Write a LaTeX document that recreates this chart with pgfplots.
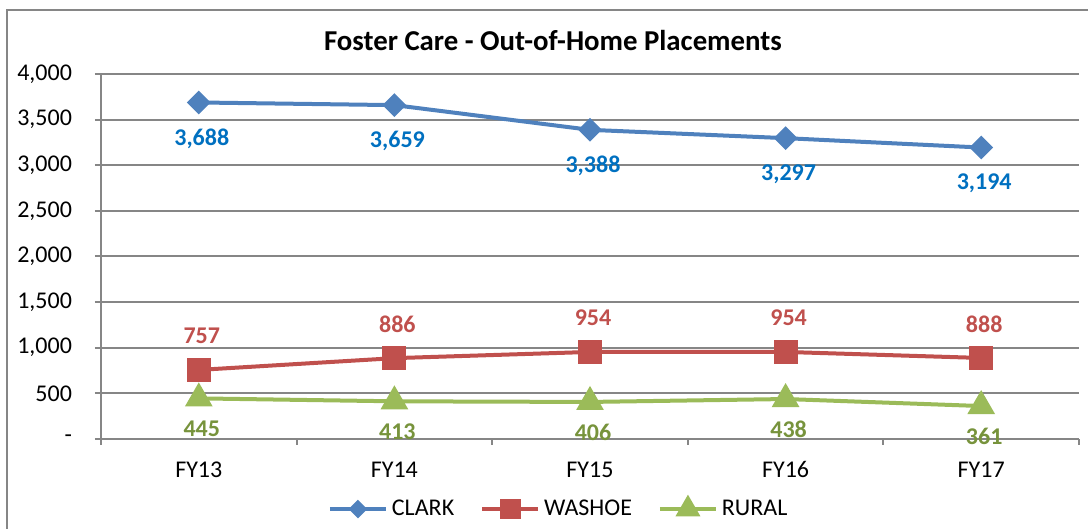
\documentclass[border=0pt]{standalone}
\usepackage{pgfplots}
\pgfplotsset{compat=1.18}
\usepackage{fontspec}
\setmainfont{Carlito}
\definecolor{cblue}{HTML}{4F81BD}
\definecolor{cred}{HTML}{C0504D}
\definecolor{cgreen}{HTML}{9BBB59}
\definecolor{lblue}{HTML}{0070C0}
\definecolor{lred}{HTML}{C0504D}
\definecolor{lgreen}{HTML}{77933C}
\definecolor{gridgray}{HTML}{868686}
\begin{document}
\begin{tikzpicture}
\useasboundingbox (0,0) rectangle (544pt,264.5pt);
\draw[gridgray, line width=0.9pt] (3.5pt,259.5pt) rectangle (560pt,-20pt);
\node[font=\fontsize{14.4}{17}\selectfont\bfseries] at (276.5pt,244pt) {Foster Care - Out-of-Home Placements};
\begin{axis}[
  at={(50.5pt,45pt)}, anchor=south west,
  scale only axis, width=489pt, height=182.5pt,
  xmin=-0.5, xmax=4.5, ymin=0, ymax=4000,
  axis x line*=bottom, axis y line*=left,
  axis line style={gridgray, line width=1pt},
  xtick={0,1,2,3,4}, xticklabels={FY13,FY14,FY15,FY16,FY17},
  minor xtick={-0.5,0.5,...,4.5},
  ytick={0,500,...,4000},
  yticklabels={-,500,{1,000},{1,500},{2,000},{2,500},{3,000},{3,500},{4,000}},
  ymajorgrids, major grid style={gridgray, line width=1pt},
  tick style={gridgray, line width=1pt},
  major x tick style={draw=none},
  tick align=outside,
  major tick length=3pt, minor tick length=3pt,
  ticklabel style={font=\fontsize{12}{14}\selectfont, text=black},
  yticklabel style={xshift=-8pt},
  xticklabel style={yshift=-4.8pt},
  /pgf/number format/assume math mode=true,
  nodes near coords,
  every node near coord/.append style={font=\fontsize{12}{14}\selectfont\bfseries, anchor=center, xshift=1.5pt},
  legend columns=3,
  legend style={at={(0.469,-0.192)}, anchor=center, draw=none, fill=none,
    font=\fontsize{12}{14}\selectfont,
    /tikz/every even column/.append style={column sep=11pt}},
  legend image code/.code={\draw[mark repeat=2,mark phase=2,#1] plot coordinates {(0pt,0pt)(14pt,0pt)(28pt,0pt)};},
]
\addplot[forget plot, cblue, line width=2pt, mark=square*, mark size=3.2pt, mark options={rotate=45},
  every node near coord/.append style={text=lblue, yshift=-18pt}]
  coordinates {(0,3688) (1,3659) (2,3388) (3,3297) (4,3194)};
\addplot[forget plot, cred, line width=2pt, mark=square*, mark size=5pt,
  every node near coord/.append style={text=lred, yshift=17pt}]
  coordinates {(0,757) (1,886) (2,954) (3,954) (4,888)};
\addplot[forget plot, cgreen, line width=2pt, mark=triangle*, mark size=6pt,
  every node near coord/.append style={text=lgreen, yshift=-15pt}]
  coordinates {(0,445) (1,413) (2,406) (3,438) (4,361)};
\addlegendimage{cblue, line width=2pt, mark=square*, mark size=2.3pt, mark options={rotate=45}}
\addlegendentry{CLARK}
\addlegendimage{cred, line width=2pt, mark=square*, mark size=4.2pt}
\addlegendentry{WASHOE}
\addlegendimage{cgreen, line width=2pt, mark=triangle*, mark size=5.2pt}
\addlegendentry{RURAL}
\end{axis}
\end{tikzpicture}
\end{document}
